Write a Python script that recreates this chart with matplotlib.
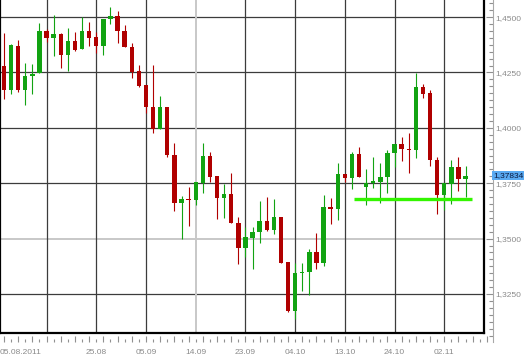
import matplotlib
matplotlib.use('Agg')
import matplotlib.pyplot as plt
import matplotlib.transforms as mtransforms
from matplotlib.ticker import MultipleLocator, FuncFormatter

# daily candles (EUR/USD, Aug - Nov 2011)
opens = [1.4279, 1.4171, 1.4369, 1.4171, 1.4234, 1.4247, 1.4437, 1.4405, 1.4423, 1.4329,
         1.4392, 1.4356, 1.4437, 1.4410, 1.4369, 1.4491, 1.4504, 1.4437, 1.4365, 1.4256,
         1.4193, 1.4094, 1.3995, 1.4094, 1.3877, 1.3661, 1.3679, 1.3674, 1.3751, 1.3873,
         1.3783, 1.3683, 1.3702, 1.3570, 1.3458, 1.3503, 1.3530, 1.3579, 1.3539, 1.3597,
         1.3395, 1.3173, 1.3345, 1.3349, 1.3440, 1.3390, 1.3643, 1.3634, 1.3792, 1.3774,
         1.3882, 1.3733, 1.3751, 1.3756, 1.3778, 1.3886, 1.3927, 1.3905, 1.3900, 1.4184,
         1.4157, 1.3855, 1.3697, 1.3747, 1.3823, 1.3769]
highs = [1.4428, 1.4378, 1.4396, 1.4293, 1.4288, 1.4473, 1.4446, 1.4509, 1.4428, 1.4450,
         1.4432, 1.4500, 1.4477, 1.4432, 1.4491, 1.4545, 1.4527, 1.4464, 1.4383, 1.4284,
         1.4193, 1.4284, 1.4144, 1.4094, 1.3932, 1.3692, 1.3733, 1.3756, 1.3932, 1.3891,
         1.3783, 1.3747, 1.3796, 1.3597, 1.3552, 1.3552, 1.3670, 1.3688, 1.3679, 1.3597,
         1.3395, 1.3390, 1.3390, 1.3453, 1.3525, 1.3697, 1.3683, 1.3841, 1.3792, 1.3891,
         1.3914, 1.3814, 1.3868, 1.3841, 1.3900, 1.3927, 1.3959, 1.3977, 1.4247, 1.4198,
         1.4171, 1.3868, 1.3751, 1.3855, 1.3868, 1.3828]
lows = [1.4130, 1.4153, 1.4162, 1.4103, 1.4153, 1.4247, 1.4387, 1.4324, 1.4270, 1.4256,
        1.4347, 1.4356, 1.4369, 1.4338, 1.4329, 1.4468, 1.4383, 1.4365, 1.4225, 1.4184,
        1.4067, 1.3977, 1.3995, 1.3868, 1.3625, 1.3498, 1.3557, 1.3652, 1.3706, 1.3756,
        1.3588, 1.3593, 1.3570, 1.3386, 1.3417, 1.3363, 1.3480, 1.3534, 1.3521, 1.3390,
        1.3169, 1.3137, 1.3264, 1.3246, 1.3363, 1.3377, 1.3566, 1.3584, 1.3756, 1.3724,
        1.3778, 1.3652, 1.3729, 1.3661, 1.3706, 1.3823, 1.3850, 1.3796, 1.3864, 1.4135,
        1.3828, 1.3611, 1.3629, 1.3656, 1.3715, 1.3688]
closes = [1.4171, 1.4374, 1.4171, 1.4234, 1.4243, 1.4437, 1.4405, 1.4423, 1.4329, 1.4392,
          1.4351, 1.4437, 1.4405, 1.4369, 1.4491, 1.4504, 1.4437, 1.4365, 1.4252, 1.4189,
          1.4094, 1.3995, 1.4094, 1.3877, 1.3661, 1.3679, 1.3674, 1.3756, 1.3873, 1.3778,
          1.3683, 1.3702, 1.3570, 1.3458, 1.3507, 1.3530, 1.3579, 1.3539, 1.3597, 1.3390,
          1.3173, 1.3345, 1.3349, 1.3440, 1.3390, 1.3643, 1.3634, 1.3792, 1.3774, 1.3882,
          1.3778, 1.3751, 1.3760, 1.3778, 1.3886, 1.3927, 1.3905, 1.3900, 1.4184, 1.4153,
          1.3855, 1.3697, 1.3751, 1.3823, 1.3769, 1.37834]

last_price = 1.37834
support_level = 1.3678
support_from, support_to = 49.3, 65.9

start_label = '05.08.2011'
date_labels = ['25.08', '05.09', '14.09', '23.09', '04.10', '13.10', '24.10', '02.11']
date_pos = [13, 20, 27, 34, 41, 48, 55, 62]
grid_x = [6, 13, 20, 27, 34, 41, 48, 55, 62]
grid_y = [1.325, 1.350, 1.375, 1.400, 1.425, 1.450]

RED = '#b00000'
GREEN = '#12a312'
GRID = '#3c3c3c'
LIGHT = '#c8c8c8'
TXT = '#8a8a8a'
plt.rcParams['font.family'] = 'Liberation Sans'

W, H = 530, 358
px = 0.025 / 55.4  # price per pixel
ylo, yhi = 1.3074, 1.4577
xlo, xhi = -0.56, 67.6

fig = plt.figure(figsize=(W / 100, H / 100), dpi=100)
ax = fig.add_axes([0, (H - 333) / H, 484 / W, 333 / H])
ax.set_xlim(xlo, xhi)
ax.set_ylim(ylo, yhi)

for y in grid_y:
    ax.axhline(y, color=LIGHT if y == 1.350 else GRID, lw=1.4 if y == 1.350 else 0.9, zorder=1)
for x in grid_x:
    ax.axvline(x, color=LIGHT if x == 27 else GRID, lw=1.4 if x == 27 else 0.9, zorder=1)

for i, (o, h, l, c) in enumerate(zip(opens, highs, lows, closes)):
    col = GREEN if c >= o else RED
    ax.vlines(i, l, h, color=col, lw=0.8, zorder=2)
    body = max(abs(c - o), 0.0006)
    ax.bar(i, body, bottom=min(o, c), width=0.62, color=col, zorder=3, linewidth=0)

ax.hlines(support_level, support_from, support_to, color='#33f500', lw=2.4, zorder=4)

ax.set_xticks([])
ax.set_yticks([])
ax.spines['top'].set_visible(False)
for s in ['left', 'bottom', 'right']:
    ax.spines[s].set_color('black')
    ax.spines[s].set_linewidth(1.6)

# price scale on the right
ax2 = fig.add_axes([484 / W, (H - 342) / H, 9 / W, 342 / H])
ax2.set_ylim(ylo - 9 * px, yhi)
ax2.patch.set_visible(False)
for s in ['left', 'top', 'bottom']:
    ax2.spines[s].set_visible(False)
ax2.spines['right'].set_color('#a8a8a8')
ax2.spines['right'].set_linewidth(0.8)
ax2.set_xticks([])
ax2.yaxis.tick_right()
ax2.yaxis.set_major_locator(MultipleLocator(0.025))
ax2.yaxis.set_minor_locator(MultipleLocator(0.025 / 8))
ax2.yaxis.set_major_formatter(FuncFormatter(lambda v, p: f'{v:.4f}'.replace('.', ',')))
ax2.tick_params(axis='y', which='major', direction='in', length=5, width=0.8,
                color='#909090', labelsize=6, labelcolor=TXT, pad=2)
ax2.tick_params(axis='y', which='minor', direction='in', length=3, width=0.8, color='#909090')
ax2.text(1.0, last_price, f'{last_price:.5f}'.replace('.', ','), transform=ax2.get_yaxis_transform(),
         ha='left', va='center', fontsize=6, color='#0a1a40', zorder=10,
         bbox=dict(boxstyle='square,pad=0.12', fc='#5aaaf2', ec='none'))

# date scale at the bottom
ax3 = fig.add_axes([0, (H - 342) / H, 493 / W, 9 / H])
ax3.set_xlim(xlo, xlo + (xhi - xlo) * 493 / 484)
ax3.patch.set_visible(False)
for s in ['left', 'top', 'right', 'bottom']:
    ax3.spines[s].set_visible(False)
ax3.set_yticks([])
ticks = list(range(0, 69))
ax3.set_xticks([t for t in ticks if t % 2 == 0])
ax3.set_xticks([t for t in ticks if t % 2 == 1], minor=True)
ax3.set_xticklabels([])
ax3.tick_params(axis='x', which='major', direction='in', length=4, width=0.8, color='#909090')
ax3.tick_params(axis='x', which='minor', direction='in', length=2, width=0.8, color='#909090')

tr = mtransforms.blended_transform_factory(ax.transData, fig.transFigure)
for p, lab in zip(date_pos, date_labels):
    ax.text(p, 6 / H, lab, transform=tr, ha='center', va='center', fontsize=6, color=TXT)
fig.text(0.0, 6 / H, start_label, ha='left', va='center', fontsize=6, color=TXT)

fig.savefig('out.png', dpi=100)
